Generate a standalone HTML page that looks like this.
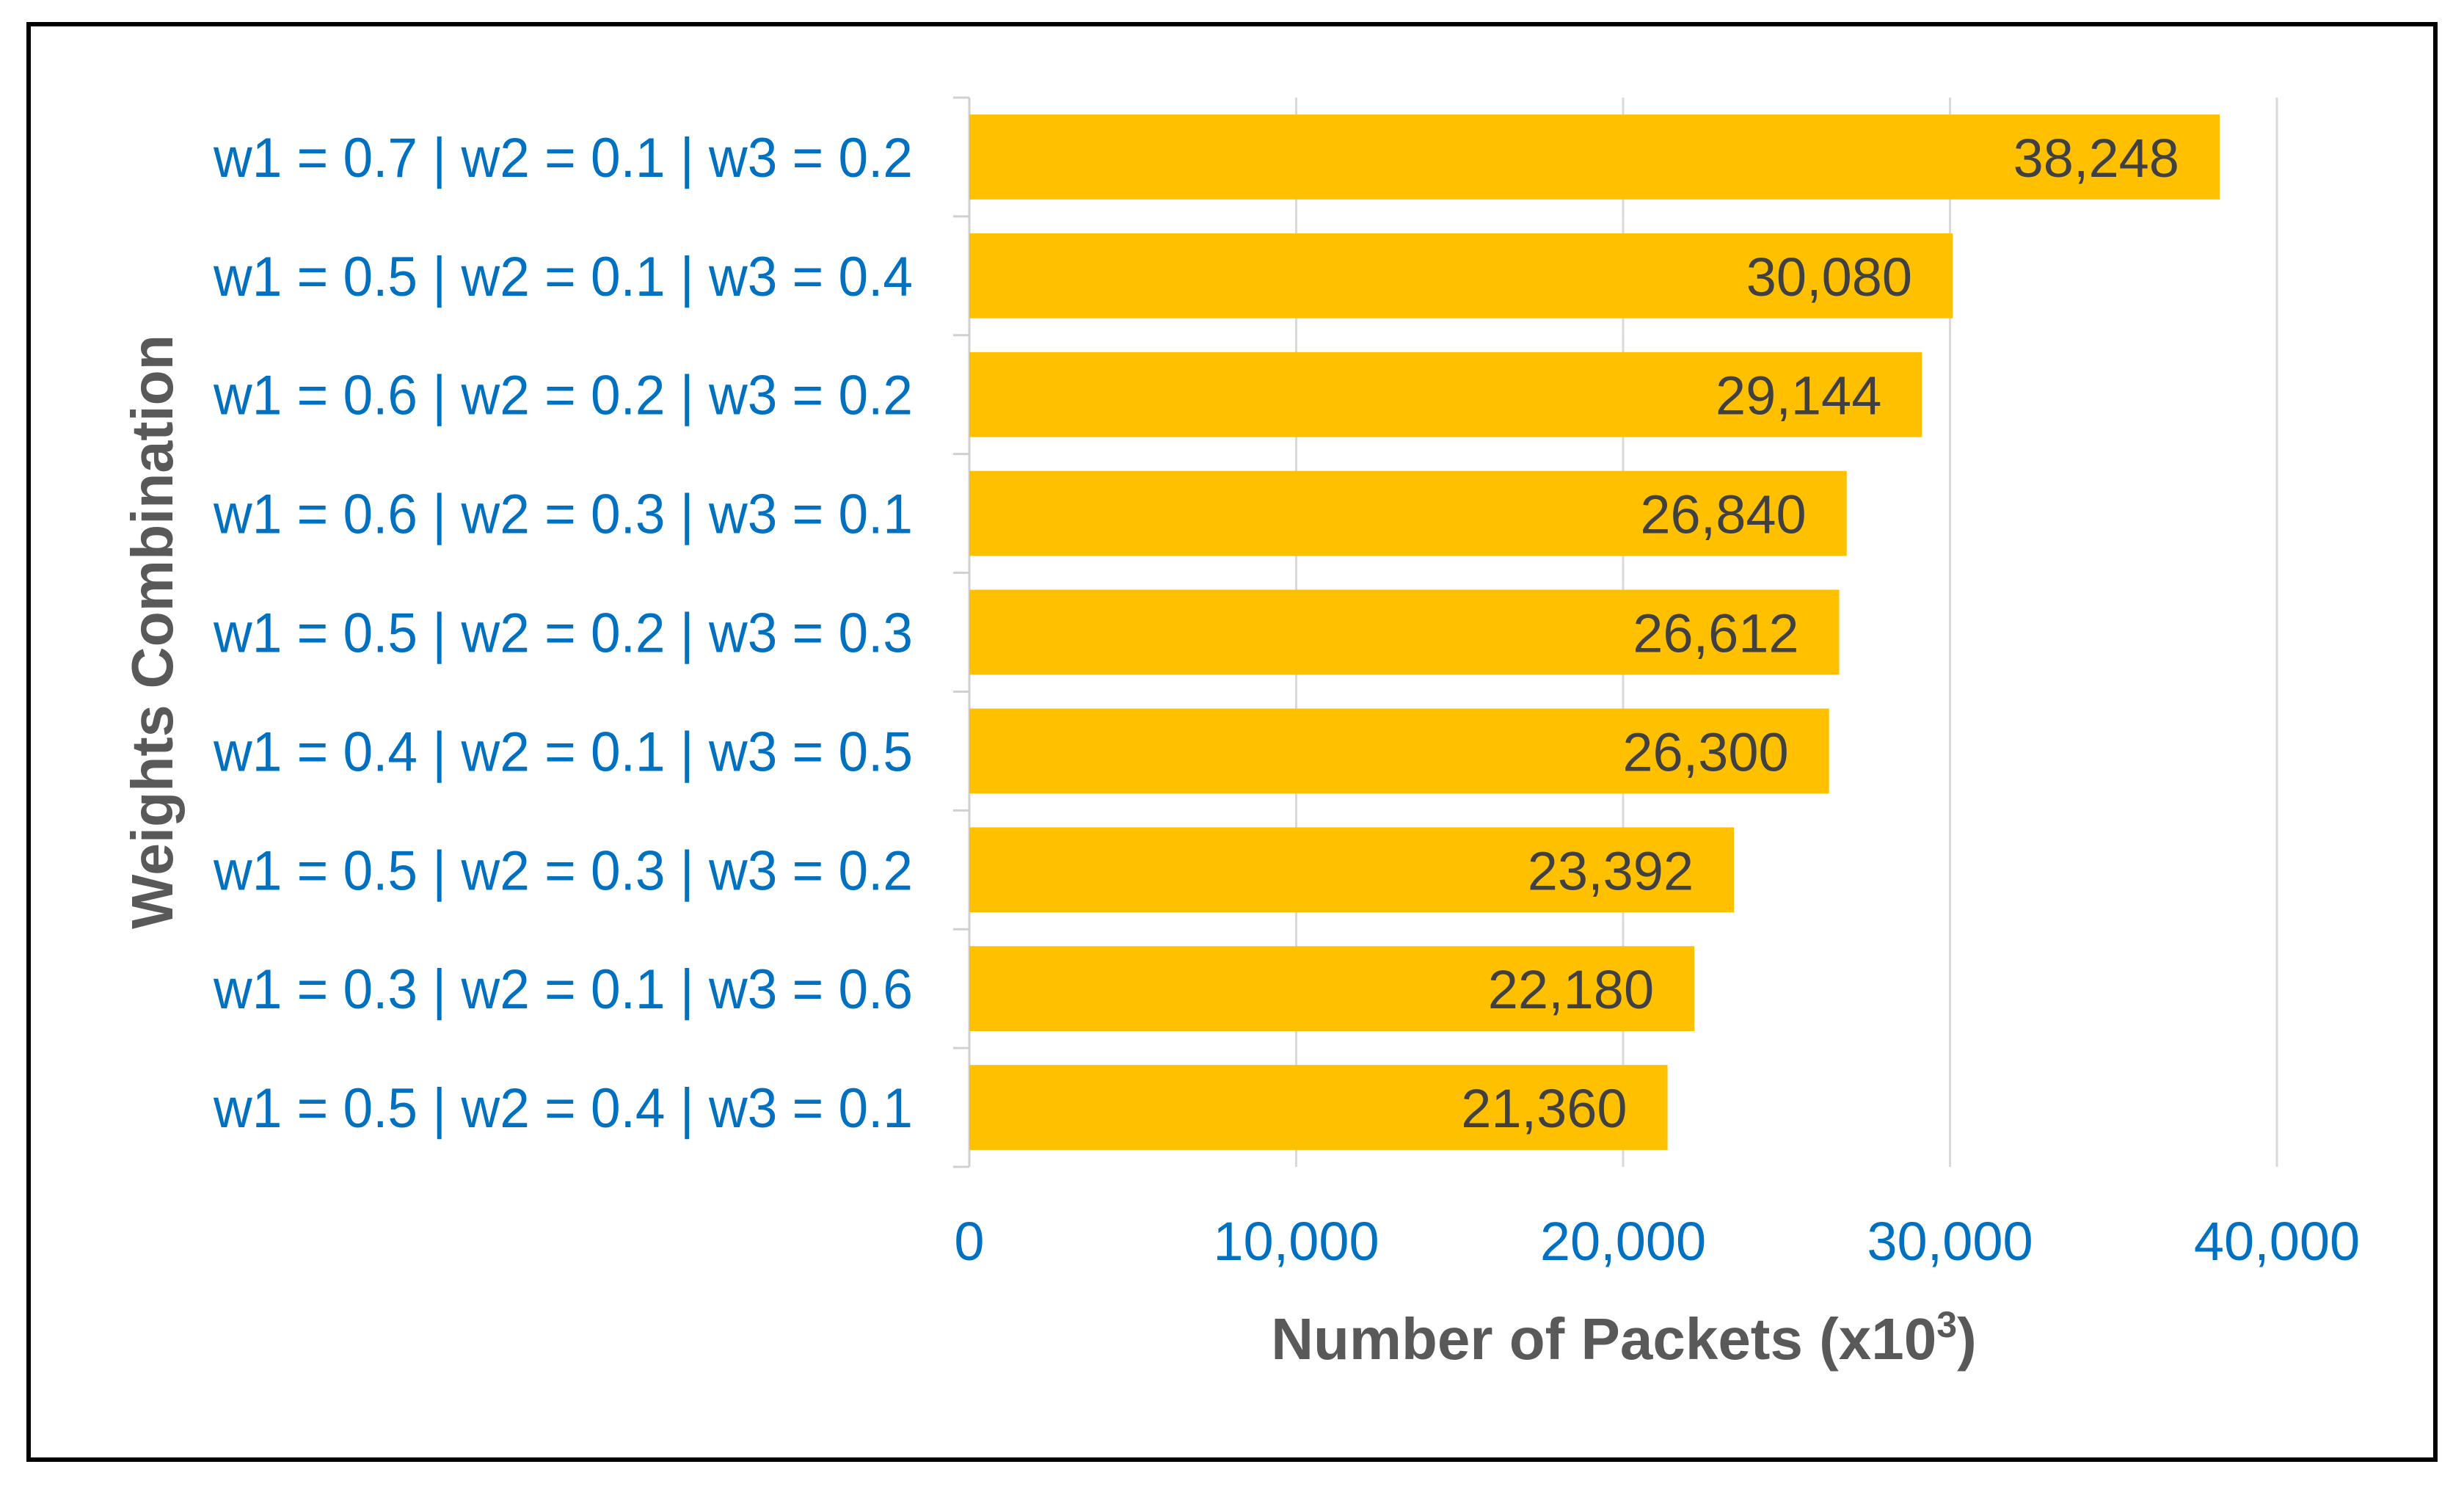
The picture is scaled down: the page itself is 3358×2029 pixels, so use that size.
<!DOCTYPE html>
<html><head><meta charset="utf-8"><style>
html,body{margin:0;padding:0;background:#fff;}
svg{display:block;font-family:"Liberation Sans",sans-serif;}
</style></head><body>
<svg id="chart" width="3358" height="2029" viewBox="0 0 3358 2029" xmlns="http://www.w3.org/2000/svg">
<rect x="39" y="33" width="3280" height="1956" fill="#fff" stroke="#000" stroke-width="6"/>
<g id="grid"></g><g id="bars"></g><g id="labels"></g>
<text transform="translate(235,861) rotate(-90)" text-anchor="middle" font-size="80" font-weight="bold" fill="#595959" textLength="810" lengthAdjust="spacingAndGlyphs">Weights Combination</text>
<text x="2213" y="1852" text-anchor="middle" font-size="80" font-weight="bold" fill="#595959">Number of Packets (x10<tspan font-size="50" dy="-30">3</tspan><tspan dy="30">)</tspan></text>
</svg>
<script>
const categories = ["w1 = 0.7 | w2 = 0.1 | w3 = 0.2","w1 = 0.5 | w2 = 0.1 | w3 = 0.4","w1 = 0.6 | w2 = 0.2 | w3 = 0.2","w1 = 0.6 | w2 = 0.3 | w3 = 0.1","w1 = 0.5 | w2 = 0.2 | w3 = 0.3","w1 = 0.4 | w2 = 0.1 | w3 = 0.5","w1 = 0.5 | w2 = 0.3 | w3 = 0.2","w1 = 0.3 | w2 = 0.1 | w3 = 0.6","w1 = 0.5 | w2 = 0.4 | w3 = 0.1"];
const values = [38248,30080,29144,26840,26612,26300,23392,22180,21360];
const ticks = [0,10000,20000,30000,40000];
const tickLabels = ["0","10,000","20,000","30,000","40,000"];

const NS="http://www.w3.org/2000/svg";
const x0=1321, pxPer=0.04455, yTop=133, yBottom=1590;
const band=(yBottom-yTop)/categories.length;
const xs=v=>x0+v*pxPer;
const ys=i=>yTop+i*band;
function mk(tag,attrs,parent){const e=document.createElementNS(NS,tag);for(const k in attrs)e.setAttribute(k,attrs[k]);document.getElementById(parent).appendChild(e);return e;}
const fmt=v=>v.toLocaleString('en-US');

ticks.forEach((t,i)=>{
  if(t>0){
    const g=mk('line',{x1:xs(t),x2:xs(t),y1:yTop,y2:yBottom,stroke:'#d9d9d9','stroke-width':3},'grid');
    
    
  }
  const tl=mk('text',{x:xs(t),y:1717,'text-anchor':'middle','font-size':74,fill:'#0070c0'},'labels');
  tl.textContent=tickLabels[i];
  
  
});
const ax=mk('line',{x1:x0,x2:x0,y1:yTop,y2:yBottom,stroke:'#d0d0d0','stroke-width':3},'grid');


for(let i=0;i<=categories.length;i++){
  const tk=mk('line',{x1:x0-22,x2:x0,y1:ys(i),y2:ys(i),stroke:'#d0d0d0','stroke-width':3},'grid');
  
  
}
categories.forEach((c,i)=>{
  const bh=band*0.715, by=ys(i)+(band-bh)/2;
  const b=mk('rect',{x:x0,y:by,width:xs(values[i])-x0,height:bh,fill:'#ffc000'},'bars');
  
  
  const dl=mk('text',{x:xs(values[i])-55,y:by+bh/2+27,'text-anchor':'end','font-size':74,fill:'#404040'},'labels');
  dl.textContent=fmt(values[i]);
  
  
  const cl=mk('text',{x:1244,y:ys(i)+band/2+27,'text-anchor':'end','font-size':76,fill:'#0070c0',textLength:953,lengthAdjust:'spacingAndGlyphs'},'labels');
  cl.textContent=c;
  
  
});
</script>
</body></html>
